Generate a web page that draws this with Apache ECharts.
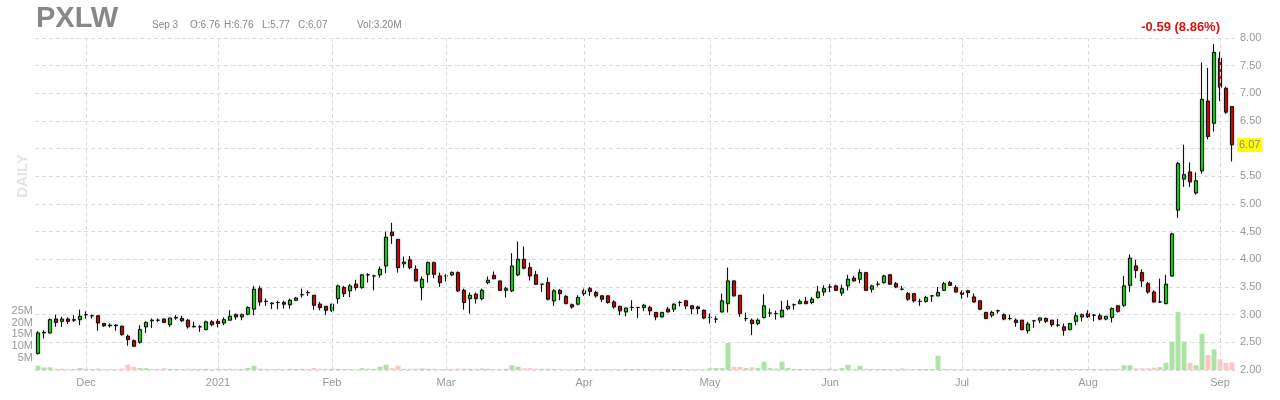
<!DOCTYPE html>
<html><head><meta charset="utf-8">
<script src="https://cdn.jsdelivr.net/npm/echarts/dist/echarts.min.js"></script>
<style>html,body{margin:0;padding:0;background:#fff}#c{width:1280px;height:400px}</style>
</head><body><div id="c"></div>
<script>
const dates = [
'2020-11-18','2020-11-19','2020-11-20','2020-11-23','2020-11-24','2020-11-25','2020-11-27','2020-11-30',
'2020-12-01','2020-12-02','2020-12-03','2020-12-04','2020-12-07','2020-12-08','2020-12-09','2020-12-10','2020-12-11','2020-12-14','2020-12-15','2020-12-16','2020-12-17','2020-12-18','2020-12-21','2020-12-22','2020-12-23','2020-12-24','2020-12-28','2020-12-29','2020-12-30','2020-12-31',
'2021-01-04','2021-01-05','2021-01-06','2021-01-07','2021-01-08','2021-01-11','2021-01-12','2021-01-13','2021-01-14','2021-01-15','2021-01-19','2021-01-20','2021-01-21','2021-01-22','2021-01-25','2021-01-26','2021-01-27','2021-01-28','2021-01-29',
'2021-02-01','2021-02-02','2021-02-03','2021-02-04','2021-02-05','2021-02-08','2021-02-09','2021-02-10','2021-02-11','2021-02-12','2021-02-16','2021-02-17','2021-02-18','2021-02-19','2021-02-22','2021-02-23','2021-02-24','2021-02-25','2021-02-26',
'2021-03-01','2021-03-02','2021-03-03','2021-03-04','2021-03-05','2021-03-08','2021-03-09','2021-03-10','2021-03-11','2021-03-12','2021-03-15','2021-03-16','2021-03-17','2021-03-18','2021-03-19','2021-03-22','2021-03-23','2021-03-24','2021-03-25','2021-03-26','2021-03-29','2021-03-30','2021-03-31',
'2021-04-01','2021-04-05','2021-04-06','2021-04-07','2021-04-08','2021-04-09','2021-04-12','2021-04-13','2021-04-14','2021-04-15','2021-04-16','2021-04-19','2021-04-20','2021-04-21','2021-04-22','2021-04-23','2021-04-26','2021-04-27','2021-04-28','2021-04-29','2021-04-30',
'2021-05-03','2021-05-04','2021-05-05','2021-05-06','2021-05-07','2021-05-10','2021-05-11','2021-05-12','2021-05-13','2021-05-14','2021-05-17','2021-05-18','2021-05-19','2021-05-20','2021-05-21','2021-05-24','2021-05-25','2021-05-26','2021-05-27','2021-05-28',
'2021-06-01','2021-06-02','2021-06-03','2021-06-04','2021-06-07','2021-06-08','2021-06-09','2021-06-10','2021-06-11','2021-06-14','2021-06-15','2021-06-16','2021-06-17','2021-06-18','2021-06-21','2021-06-22','2021-06-23','2021-06-24','2021-06-25','2021-06-28','2021-06-29','2021-06-30',
'2021-07-01','2021-07-02','2021-07-06','2021-07-07','2021-07-08','2021-07-09','2021-07-12','2021-07-13','2021-07-14','2021-07-15','2021-07-16','2021-07-19','2021-07-20','2021-07-21','2021-07-22','2021-07-23','2021-07-26','2021-07-27','2021-07-28','2021-07-29','2021-07-30',
'2021-08-02','2021-08-03','2021-08-04','2021-08-05','2021-08-06','2021-08-09','2021-08-10','2021-08-11','2021-08-12','2021-08-13','2021-08-16','2021-08-17','2021-08-18','2021-08-19','2021-08-20','2021-08-23','2021-08-24','2021-08-25','2021-08-26','2021-08-27','2021-08-30','2021-08-31',
'2021-09-01','2021-09-02','2021-09-03'
];
const opens = [
2.30,2.67,2.67,2.92,2.88,2.92,2.90,2.91,3.00,2.98,
2.98,2.84,2.81,2.81,2.79,2.61,2.53,2.50,2.78,2.89,
2.90,2.92,2.82,2.94,2.93,2.90,2.78,2.78,2.73,2.87,
2.88,2.85,2.90,3.00,2.96,3.01,3.10,3.47,3.24,3.21,
3.22,3.22,3.18,3.26,3.36,3.40,3.35,3.19,3.15,3.07,
3.29,3.49,3.43,3.55,3.49,3.72,3.70,3.72,3.88,4.49,
4.36,3.92,3.99,3.82,3.49,3.73,3.94,3.70,3.70,3.72,
3.76,3.44,3.29,3.37,3.29,3.58,3.71,3.61,3.44,3.43,
3.72,4.00,3.85,3.72,3.55,3.58,3.25,3.44,3.33,3.18,
3.19,3.38,3.47,3.40,3.34,3.34,3.23,3.15,3.05,3.13,
3.13,3.13,3.13,3.04,2.96,3.10,3.10,3.22,3.25,3.16,
3.14,3.08,2.95,2.92,3.05,3.20,3.61,3.35,2.93,2.90,
2.84,2.95,3.03,3.02,2.96,3.11,3.18,3.20,3.24,3.22,
3.31,3.41,3.50,3.52,3.39,3.52,3.66,3.64,3.76,3.46,
3.55,3.58,3.72,3.56,3.46,3.38,3.38,3.24,3.24,3.34,
3.34,3.44,3.58,3.49,3.40,3.43,3.32,3.25,3.04,2.99,
3.07,3.00,2.93,2.90,2.90,2.71,2.89,2.90,2.93,2.90,
2.81,2.78,2.73,2.88,2.96,3.02,2.99,2.98,2.92,2.95,
3.16,3.17,3.53,3.88,3.76,3.56,3.41,3.23,3.20,3.70,
4.89,5.45,5.58,5.20,5.60,6.86,6.46,7.63,7.09,6.76
];
const closes = [
2.67,2.68,2.91,2.86,2.92,2.88,2.91,2.97,3.00,2.98,
2.85,2.80,2.80,2.80,2.64,2.55,2.43,2.73,2.86,2.90,
2.90,2.86,2.94,2.95,2.89,2.78,2.79,2.78,2.87,2.82,
2.84,2.91,2.97,2.96,3.00,3.13,3.46,3.23,3.24,3.20,
3.22,3.19,3.26,3.30,3.36,3.40,3.17,3.13,3.08,3.19,
3.52,3.38,3.52,3.49,3.72,3.72,3.70,3.82,4.40,4.43,
3.85,3.95,3.85,3.61,3.64,3.94,3.73,3.58,3.70,3.76,
3.43,3.22,3.35,3.29,3.44,3.62,3.65,3.44,3.47,3.88,
4.00,3.84,3.70,3.55,3.55,3.28,3.43,3.38,3.20,3.14,
3.31,3.43,3.42,3.34,3.28,3.22,3.14,3.07,3.12,3.13,
3.13,3.17,3.07,2.96,3.04,3.05,3.19,3.22,3.16,3.11,
3.11,2.94,2.95,2.92,3.25,3.61,3.34,3.02,2.93,2.84,
2.90,3.16,3.03,3.02,3.08,3.15,3.18,3.24,3.20,3.28,
3.41,3.47,3.50,3.44,3.47,3.64,3.61,3.76,3.44,3.52,
3.55,3.70,3.55,3.50,3.46,3.28,3.25,3.24,3.31,3.34,
3.40,3.56,3.53,3.41,3.37,3.40,3.23,3.10,2.93,3.04,
3.07,2.92,2.93,2.86,2.73,2.83,2.89,2.94,2.88,2.82,
2.81,2.72,2.84,2.98,3.00,2.96,2.99,2.92,2.97,3.11,
3.06,3.52,4.02,3.80,3.61,3.41,3.23,3.23,3.55,4.46,
5.73,5.53,5.40,5.42,6.89,6.22,7.74,7.11,6.66,6.07
];
const highs = [
2.70,2.72,2.93,3.00,2.96,2.95,2.99,3.09,3.06,3.00,
2.98,2.85,2.84,2.83,2.80,2.64,2.55,2.81,2.88,2.93,
2.93,2.93,2.94,2.99,2.98,2.92,2.87,2.81,2.89,2.90,
2.92,2.95,3.08,3.02,3.02,3.15,3.52,3.52,3.29,3.22,
3.25,3.25,3.29,3.32,3.47,3.44,3.35,3.23,3.15,3.19,
3.54,3.52,3.55,3.63,3.73,3.75,3.72,3.87,4.50,4.66,
4.36,4.05,4.06,3.89,3.69,3.96,3.96,3.76,3.73,3.78,
3.78,3.47,3.40,3.40,3.47,3.69,3.78,3.61,3.50,4.11,
4.32,4.23,3.94,3.79,3.55,3.67,3.46,3.46,3.35,3.20,
3.35,3.47,3.50,3.43,3.35,3.34,3.26,3.15,3.12,3.26,
3.14,3.19,3.16,3.04,3.05,3.14,3.20,3.25,3.26,3.17,
3.16,3.09,3.02,2.97,3.38,3.85,3.62,3.35,3.04,2.93,
2.93,3.37,3.11,3.07,3.25,3.26,3.20,3.28,3.32,3.32,
3.52,3.53,3.55,3.54,3.54,3.72,3.70,3.82,3.76,3.54,
3.60,3.72,3.73,3.59,3.52,3.41,3.38,3.29,3.34,3.35,
3.50,3.59,3.61,3.53,3.44,3.44,3.38,3.26,3.05,3.07,
3.09,3.02,3.00,2.93,2.90,2.87,2.90,2.95,2.95,2.90,
2.92,2.84,2.84,3.04,3.02,3.08,3.01,3.02,2.97,3.13,
3.17,3.70,4.09,3.99,3.82,3.59,3.44,3.65,3.72,4.48,
5.76,6.07,5.75,5.57,7.56,7.46,7.89,7.75,7.12,6.76
];
const lows = [
2.28,2.57,2.66,2.78,2.78,2.83,2.87,2.81,2.93,2.93,
2.71,2.78,2.77,2.71,2.62,2.44,2.42,2.48,2.67,2.76,
2.87,2.85,2.78,2.91,2.87,2.75,2.77,2.69,2.72,2.79,
2.77,2.81,2.90,2.91,2.90,2.99,2.99,3.16,3.16,3.10,
3.10,3.11,3.11,3.25,3.31,3.34,3.09,3.08,3.00,3.05,
3.20,3.32,3.32,3.44,3.47,3.58,3.44,3.67,3.75,4.28,
3.76,3.85,3.82,3.60,3.26,3.58,3.66,3.50,3.60,3.70,
3.41,3.09,3.02,3.20,3.26,3.55,3.64,3.43,3.31,3.41,
3.70,3.82,3.62,3.54,3.41,3.26,3.16,3.26,3.19,3.11,
3.17,3.34,3.34,3.31,3.23,3.20,3.11,2.99,2.97,3.07,
2.94,3.07,2.99,2.90,2.95,3.04,3.05,3.15,3.10,3.01,
3.01,2.92,2.84,2.85,3.04,3.04,3.33,2.96,2.88,2.63,
2.81,2.93,2.96,2.91,2.95,3.08,3.09,3.19,3.19,3.19,
3.29,3.34,3.41,3.43,3.34,3.44,3.60,3.57,3.43,3.40,
3.51,3.56,3.54,3.48,3.44,3.25,3.22,3.16,3.22,3.23,
3.33,3.43,3.52,3.40,3.29,3.31,3.22,3.08,2.92,2.95,
3.02,2.90,2.90,2.78,2.72,2.66,2.76,2.85,2.85,2.78,
2.78,2.62,2.72,2.81,2.88,2.94,2.88,2.90,2.90,2.86,
3.04,3.14,3.41,3.66,3.50,3.38,3.22,3.21,3.19,3.69,
4.75,5.31,5.31,5.17,5.55,6.17,6.31,6.86,6.63,5.77
];
const volumesM = [
1.8,1.1,1.1,0.5,0.5,0.4,0.4,0.8,0.5,0.4,
0.6,0.4,0.4,0.4,0.6,2.2,1.3,0.8,0.8,0.4,
0.4,0.7,0.5,0.4,0.4,0.5,0.4,0.4,0.5,0.4,
0.5,0.4,0.5,0.4,0.5,0.9,1.8,0.6,0.4,0.4,
0.4,0.4,0.5,0.4,0.5,0.4,0.8,0.5,0.5,0.5,
0.5,0.4,0.4,0.4,0.8,0.5,0.5,1.4,2.2,0.8,
1.8,0.5,0.5,0.5,0.6,0.5,0.5,0.4,0.4,0.4,
0.6,0.6,0.5,0.5,0.6,0.5,0.4,0.4,0.5,2.0,
1.4,0.7,0.8,0.6,0.5,0.6,0.4,0.4,0.4,0.4,
0.4,0.4,0.4,0.4,0.4,0.4,0.4,0.4,0.4,0.4,
0.4,0.4,0.4,0.4,0.4,0.4,0.4,0.4,0.4,0.4,
0.4,0.4,0.8,0.8,0.8,11.4,1.3,1.3,0.8,1.1,
0.8,3.5,0.8,0.6,3.5,0.8,0.4,0.4,0.4,0.4,
0.4,0.4,0.6,0.4,0.8,2.2,0.4,1.8,0.5,0.4,
0.4,0.4,0.4,0.4,0.6,0.4,0.4,0.4,0.4,0.4,
6.0,0.5,0.4,0.4,0.4,0.4,0.4,0.4,0.4,0.4,
0.4,0.4,0.4,0.4,0.4,0.4,0.4,0.4,0.4,0.4,
0.4,0.4,0.4,0.4,0.4,0.4,0.4,0.4,0.4,0.4,
0.5,2.0,2.0,0.7,0.7,0.7,1.0,1.2,3.0,12.0,
24.5,12.0,3.0,2.0,15.3,6.3,8.7,4.5,3.0,3.2
];
const monthNames = ['2021','Feb','Mar','Apr','May','Jun','Jul','Aug','Sep','Oct','Nov','Dec'];
const priceTicks = [2, 8, 0.5];   // min, max, step
const volTickLabels = ['5M','10M','15M','20M','25M'];
const lastPriceLabel = '6.07';
const headerSymbol = 'PXLW';
const headerParts = ['Sep 3','O:6.76','H:6.76','L:5.77','C:6.07','Vol:3.20M'];
const changeText = '-0.59 (8.86%)';

const FONT = '"Liberation Sans", Arial, sans-serif';
const ohlc = dates.map((d, i) => [opens[i], closes[i], lows[i], highs[i]]);
const monthStarts = [];
dates.forEach((d, i) => { if (i > 0 && d.slice(0, 7) !== dates[i - 1].slice(0, 7)) monthStarts.push(i); });
const monthStartSet = new Set(monthStarts);
const volData = volumesM.map((v, i) => ({
  value: v * 1e6,
  itemStyle: { color: closes[i] >= opens[i] ? '#aee3a6' : '#ffc4c4' }
}));

const chart = echarts.init(document.getElementById('c'), null, { renderer: 'canvas' });
chart.setOption({
  animation: false,
  backgroundColor: '#fff',
  textStyle: { fontFamily: FONT },
  grid: { left: 35, right: 45, top: 38, bottom: 30, containLabel: false },
  xAxis: {
    type: 'category', data: dates, boundaryGap: true,
    axisLine: { show: false }, axisTick: { show: false },
    splitLine: { show: false },
    axisLabel: {
      color: '#999', fontSize: 11, margin: 7,
      interval: (idx) => monthStartSet.has(idx),
      formatter: (v) => monthNames[(parseInt(v.slice(5, 7), 10) + 11) % 12]
    }
  },
  yAxis: [
    {
      type: 'value', position: 'right', min: priceTicks[0], max: priceTicks[1], interval: priceTicks[2],
      axisLine: { show: false }, axisTick: { show: false },
      axisLabel: { color: '#999', fontSize: 11, margin: 5, formatter: (v) => v.toFixed(2) },
      splitLine: { lineStyle: { color: '#dcdcdc', type: [4, 3] } }
    },
    {
      type: 'value', position: 'left', min: 0, max: 140e6, interval: 5e6,
      axisLine: { show: false }, axisTick: { show: false }, splitLine: { show: false },
      axisLabel: {
        color: '#999', fontSize: 11, margin: 2,
        formatter: (v) => { const k = Math.round(v / 5e6); return (k >= 1 && k <= volTickLabels.length) ? volTickLabels[k - 1] : ''; }
      }
    }
  ],
  series: [
    {
      type: 'bar', name: 'Volume', yAxisIndex: 1, data: volData, barWidth: 5, z: 1,
      silent: true,
      markLine: {
        silent: true, symbol: 'none', animation: false,
        label: { show: false },
        lineStyle: { color: '#dcdcdc', type: [4, 3], width: 1 },
        data: monthStarts.map((i) => ({ xAxis: dates[i] }))
      }
    },
    {
      type: 'candlestick', name: 'PXLW', data: ohlc, yAxisIndex: 0, z: 3,
      barWidth: 4,
      itemStyle: {
        color: '#00e600', color0: '#e00000',
        borderColor: '#111', borderColor0: '#111', borderColorDoji: '#111', borderWidth: 1,
        shadowBlur: 2, shadowColor: 'rgba(0,0,0,0.3)'
      },
      markLine: {
        silent: true, symbol: 'none', animation: false, z: 10,
        lineStyle: { color: 'rgba(0,0,0,0)', width: 1, type: 'solid' },
        label: {
          show: true, position: 'end', distance: 2, formatter: () => lastPriceLabel,
          backgroundColor: '#ffff00', color: '#888', fontSize: 11, padding: [2, 2, 1, 2]
        },
        emphasis: { disabled: true },
        data: [{ yAxis: parseFloat(lastPriceLabel) }]
      }
    }
  ],
  graphic: [
    { type: 'text', x: 36, y: 19, style: { text: headerSymbol, font: 'bold 29px ' + FONT, fill: '#888', textVerticalAlign: 'middle' } },
    { type: 'text', x: 152, y: 25, style: { text: headerParts[0], font: '10px ' + FONT, fill: '#888', textVerticalAlign: 'middle' } },
    { type: 'text', x: 190, y: 25, style: { text: headerParts[1], font: '10px ' + FONT, fill: '#888', textVerticalAlign: 'middle' } },
    { type: 'text', x: 224, y: 25, style: { text: headerParts[2], font: '10px ' + FONT, fill: '#888', textVerticalAlign: 'middle' } },
    { type: 'text', x: 262, y: 25, style: { text: headerParts[3], font: '10px ' + FONT, fill: '#888', textVerticalAlign: 'middle' } },
    { type: 'text', x: 298, y: 25, style: { text: headerParts[4], font: '10px ' + FONT, fill: '#888', textVerticalAlign: 'middle' } },
    { type: 'text', x: 357, y: 25, style: { text: headerParts[5], font: '10px ' + FONT, fill: '#888', textVerticalAlign: 'middle' } },
    { type: 'text', x: 1220, y: 27, style: { text: changeText, font: 'bold 13px ' + FONT, fill: '#d41515', textAlign: 'right', textVerticalAlign: 'middle' } },
    { type: 'text', x: 23, y: 176, rotation: Math.PI / 2, style: { text: 'DAILY', font: 'bold 15px ' + FONT, fill: '#e4e4e4', textAlign: 'center', textVerticalAlign: 'middle' } }
  ]
});
</script>
</body></html>
